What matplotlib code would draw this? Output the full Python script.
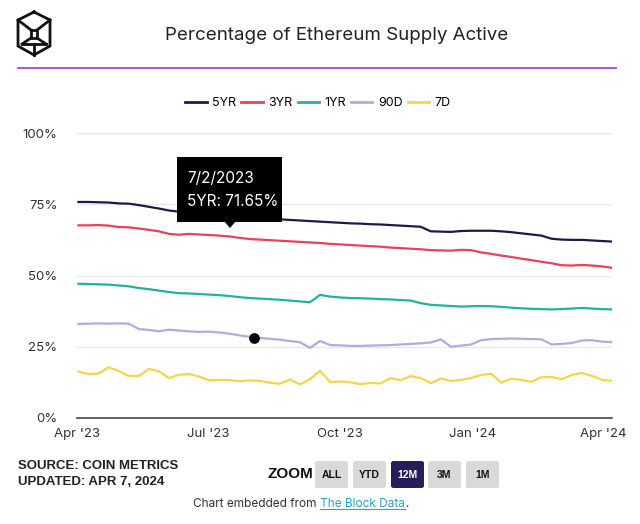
import datetime as dt

import matplotlib.pyplot as plt
from matplotlib.lines import Line2D
from matplotlib.patches import FancyBboxPatch, Polygon

# weekly samples, Apr 2 2023 -> Apr 7 2024
start = dt.date(2023, 4, 2)
dates = [start + dt.timedelta(days=7 * k) for k in range(54)]

yr5 = [75.8, 75.8, 75.7, 75.6, 75.3, 75.2, 74.7, 74.1, 73.5, 72.8,
       72.4, 72.1, 71.9, 71.65, 71.4, 71.1, 70.8, 70.5, 70.2, 70.0,
       69.7, 69.5, 69.3, 69.1, 68.9, 68.7, 68.5, 68.3, 68.2, 68.0,
       67.9, 67.7, 67.5, 67.3, 67.1, 65.5, 65.4, 65.3, 65.6, 65.7,
       65.7, 65.7, 65.5, 65.2, 64.8, 64.4, 64.0, 62.9, 62.6, 62.5,
       62.5, 62.3, 62.1, 61.9]
yr3 = [67.6, 67.6, 67.7, 67.5, 67.0, 66.9, 66.5, 66.0, 65.5, 64.6,
       64.3, 64.6, 64.4, 64.2, 64.0, 63.7, 63.2, 62.8, 62.6, 62.4,
       62.2, 62.0, 61.8, 61.6, 61.4, 61.1, 60.9, 60.7, 60.5, 60.3,
       60.1, 59.8, 59.6, 59.4, 59.2, 58.9, 58.8, 58.7, 59.0, 58.9,
       58.1, 57.6, 57.0, 56.5, 55.9, 55.4, 54.8, 54.3, 53.6, 53.5,
       53.7, 53.5, 53.2, 52.7]
yr1 = [47.1, 47.0, 46.9, 46.8, 46.5, 46.2, 45.6, 45.2, 44.7, 44.2,
       43.8, 43.7, 43.5, 43.3, 43.1, 42.8, 42.4, 42.1, 41.9, 41.7,
       41.5, 41.2, 40.9, 40.6, 43.2, 42.6, 42.3, 42.1, 42.0, 41.9,
       41.7, 41.6, 41.4, 41.2, 40.3, 39.7, 39.5, 39.3, 39.1, 39.2,
       39.3, 39.2, 39.0, 38.7, 38.5, 38.3, 38.2, 38.1, 38.2, 38.4,
       38.6, 38.4, 38.2, 38.1]
d90 = [33.0, 33.1, 33.2, 33.1, 33.2, 33.1, 31.2, 30.9, 30.4, 31.0,
       30.7, 30.4, 30.2, 30.3, 30.0, 29.6, 29.0, 28.5, 28.1, 27.8,
       27.5, 27.0, 26.6, 24.6, 27.0, 25.6, 25.5, 25.3, 25.3, 25.4,
       25.5, 25.6, 25.8, 26.0, 26.2, 26.5, 27.6, 25.0, 25.4, 25.8,
       27.3, 27.7, 27.8, 27.9, 27.8, 27.7, 27.6, 25.8, 26.0, 26.3,
       27.2, 27.3, 26.8, 26.6]
d7 = [16.3, 15.4, 15.6, 17.8, 16.5, 14.8, 14.7, 17.2, 16.4, 14.0,
      15.2, 15.4, 14.5, 13.2, 13.4, 13.3, 12.9, 13.2, 13.0, 12.4,
      12.0, 13.5, 11.8, 13.6, 16.6, 12.6, 12.8, 12.5, 11.9, 12.3,
      12.1, 14.0, 13.3, 14.7, 14.0, 12.2, 13.9, 13.0, 13.4, 14.0,
      15.1, 15.5, 12.4, 13.8, 13.4, 12.7, 14.3, 14.4, 13.6, 15.1,
      15.8, 14.8, 13.4, 13.0]

series = [("5YR", yr5, "#1c1a4b"), ("3YR", yr3, "#e8405f"),
          ("1YR", yr1, "#22b29d"), ("90D", d90, "#b3abdc"),
          ("7D", d7, "#f6d54a")]

hover_date = dt.date(2023, 8, 2)
hover_value = 28.1
tooltip_lines = ["7/2/2023", "5YR: 71.65%"]

tick_dates = [dt.date(2023, 4, 1), dt.date(2023, 7, 1), dt.date(2023, 10, 1),
              dt.date(2024, 1, 1), dt.date(2024, 4, 1)]
tick_labels = ["Apr '23", "Jul '23", "Oct '23", "Jan '24", "Apr '24"]
y_ticks = [0, 25, 50, 75, 100]
zoom_buttons = ["ALL", "YTD", "12M", "3M", "1M"]

W, H = 640, 524


def fx(x):
    return x / W


def fy(y):
    return 1 - y / H


plt.rcParams["font.family"] = ["Inter", "DejaVu Sans"]
fig = plt.figure(figsize=(6.4, 5.24), dpi=100)
fig.patch.set_facecolor("white")

ax = fig.add_axes([fx(77), fy(418), fx(612 - 77), (418 - 133) / H])
for name, vals, color in series:
    ax.plot(dates, vals, color=color, linewidth=1.6, label=name, zorder=3)
ax.scatter([hover_date], [hover_value], s=45, color="black", zorder=5)

ax.set_xlim(dt.date(2023, 4, 1), dt.date(2024, 4, 7))
ax.set_ylim(0, 100)
ax.set_xticks(tick_dates)
ax.set_xticklabels(tick_labels)
ax.set_yticks(y_ticks)
ax.set_yticklabels([f"{v}%" for v in y_ticks])
ax.tick_params(length=0, labelsize=9.5, colors="#333333")
ax.tick_params(axis="y", pad=14)
ax.tick_params(axis="x", pad=7)
ax.grid(axis="y", color="#e8e8e8", linewidth=1)
ax.set_axisbelow(True)
for s in ["top", "right", "left"]:
    ax.spines[s].set_visible(False)
ax.spines["bottom"].set_color("#444444")
ax.spines["bottom"].set_linewidth(1.2)

# tooltip
tip = FancyBboxPatch((fx(177), fy(222)), fx(282 - 177), (222 - 157) / H,
                     boxstyle="square,pad=0", transform=fig.transFigure,
                     facecolor="black", edgecolor="none", zorder=10)
fig.patches.append(tip)
fig.patches.append(Polygon([(fx(224), fy(221)), (fx(236), fy(221)), (fx(230), fy(228))],
                           closed=True, transform=fig.transFigure,
                           facecolor="black", edgecolor="none", zorder=10))
fig.text(fx(187), fy(178), tooltip_lines[0], color="white", fontsize=11,
         va="center", ha="left", zorder=11)
fig.text(fx(187), fy(202), tooltip_lines[1], color="white", fontsize=11,
         va="center", ha="left", zorder=11)

# header
fig.text(fx(337), fy(35), "Percentage of Ethereum Supply Active", fontsize=13.5,
         ha="center", va="center", color="#222222")
fig.add_artist(Line2D([fx(18), fx(616)], [fy(68), fy(68)], color="#9b2fd6",
                      linewidth=1.2, transform=fig.transFigure))

# logo
hexagon = [(34, 12), (50, 20), (50, 46), (34, 55), (18, 46), (18, 20), (34, 12)]
inner = [(31, 30), (37, 30), (37, 38), (31, 38), (31, 30)]
spokes = [[(18, 20), (31, 30)], [(50, 20), (37, 30)], [(34, 55), (34, 44)],
          [(31, 38), (22, 44)], [(37, 38), (46, 44)], [(22, 44), (34, 44), (46, 44)]]
for pts in [hexagon, inner] + spokes:
    fig.add_artist(Line2D([fx(p[0]) for p in pts], [fy(p[1]) for p in pts],
                          color="#111111", linewidth=2, transform=fig.transFigure,
                          solid_joinstyle="miter"))

# legend
handles = [Line2D([], [], color=c, linewidth=2) for _, _, c in series]
fig.legend(handles, [n for n, _, _ in series], loc="center", ncol=5,
           bbox_to_anchor=(fx(318), fy(103)), frameon=False, fontsize=9,
           handlelength=1.7, handletextpad=0.45, columnspacing=0.4)

# footer
bold = ["Liberation Sans", "DejaVu Sans"]
fig.text(fx(18), fy(466), "SOURCE: COIN METRICS", fontsize=9.5, fontweight="bold",
         family=bold, va="center", color="#222222")
fig.text(fx(18), fy(482), "UPDATED: APR 7, 2024", fontsize=9.5, fontweight="bold",
         family=bold, va="center", color="#222222")
fig.text(fx(290), fy(474), "ZOOM", fontsize=11, fontweight="bold",
         family=bold, ha="center", va="center", color="#111111")
button_x = [315, 353, 391, 428, 466]
for label, bx in zip(zoom_buttons, button_x):
    active = label == "12M"
    box = FancyBboxPatch((fx(bx), fy(488)), fx(33), 27 / H,
                         boxstyle="round,pad=0,rounding_size=0.004",
                         transform=fig.transFigure,
                         facecolor="#241f5a" if active else "#d9d9d9",
                         edgecolor="none")
    fig.patches.append(box)
    fig.text(fx(bx + 16.5), fy(475), label, fontsize=7.5, fontweight="bold",
             family=bold, ha="center", va="center",
             color="white" if active else "#111111")

t1 = fig.text(fx(320), fy(504), "Chart embedded from ", fontsize=8.5, ha="right",
              va="center", color="#333333")
t2 = fig.text(fx(320), fy(504), "The Block Data", fontsize=8.5, ha="left",
              va="center", color="#2aa3c4")
renderer = fig.canvas.get_renderer()
bb = t2.get_window_extent(renderer).transformed(fig.transFigure.inverted())
fig.text(bb.x1 + fx(0.5), fy(504), ".", fontsize=8.5, ha="left", va="center",
         color="#333333")
fig.add_artist(Line2D([bb.x0, bb.x1], [bb.y0 + 1.5 / H] * 2, color="#2aa3c4",
                      linewidth=0.8, transform=fig.transFigure))

fig.savefig("out.png", dpi=100)
